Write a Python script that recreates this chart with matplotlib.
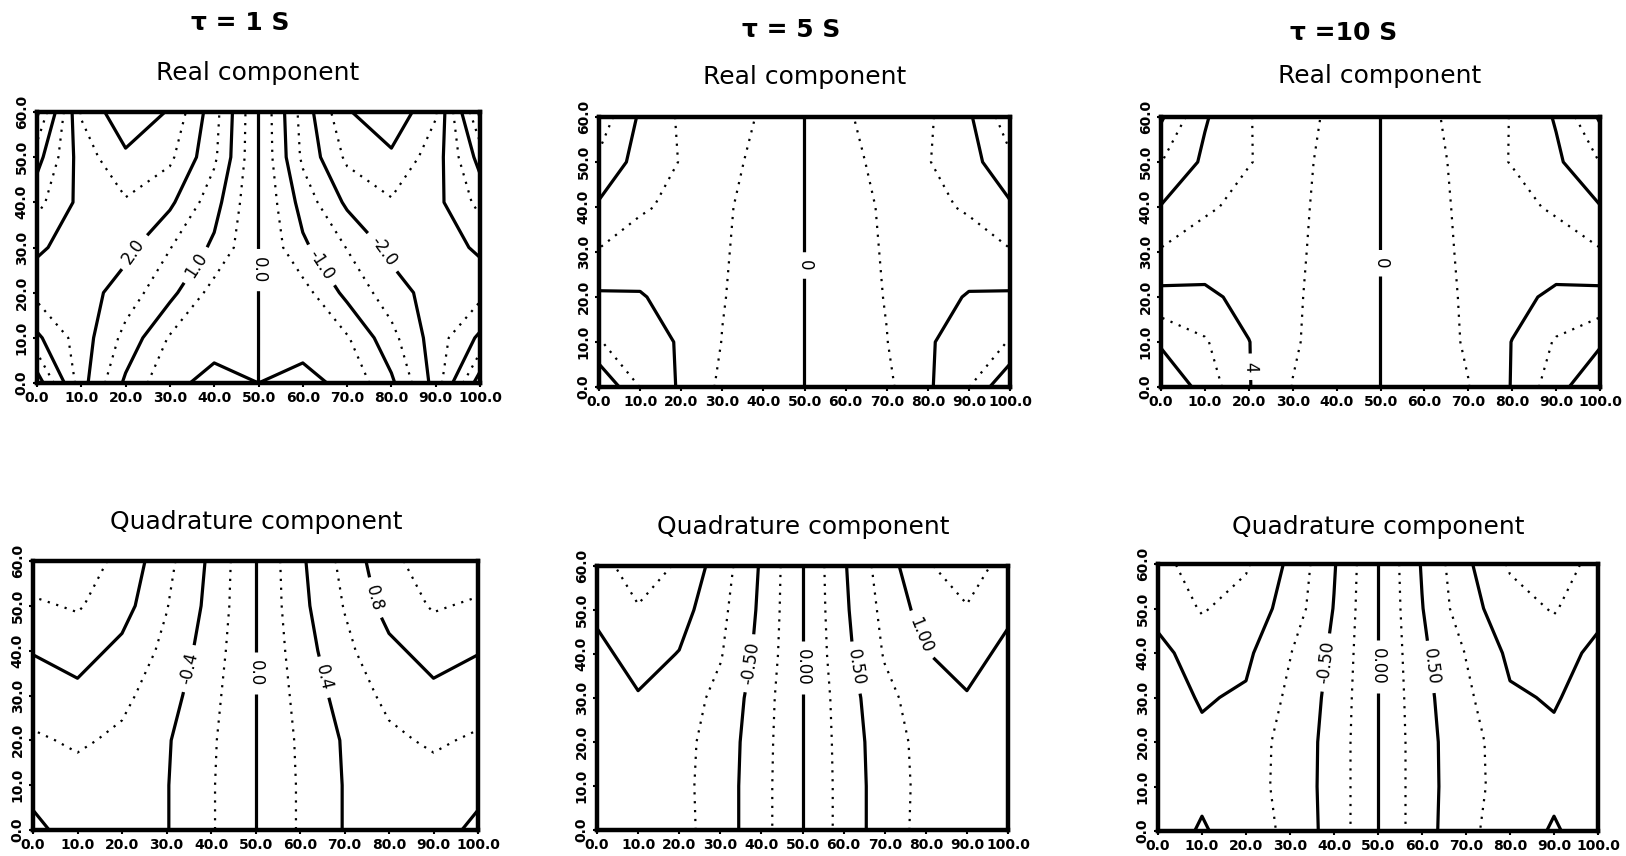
import matplotlib.pyplot as plt
import numpy as np

plt.rcParams['axes.unicode_minus'] = False

# grid nodes: distance along the profile (x) and depth (y)
x_nodes = [0, 10, 20, 30, 40, 50, 60, 70, 80, 90, 100]
y_nodes = [0, 10, 20, 30, 40, 50, 60]

x_tick_labels = ['0.0', '10.0', '20.0', '30.0', '40.0', '50.0',
                 '60.0', '70.0', '80.0', '90.0', '100.0']
y_tick_labels = ['0.0', '10.0', '20.0', '30.0', '40.0', '50.0', '60.0']

tau_titles = ['τ = 1 S', 'τ = 5 S', 'τ =10 S']
row_titles = ['Real component', 'Quadrature component']

# field values on the grid, one row per depth (y = 0 ... 60)
real_tau1 = [
    [4.3, 2.2, 0.9, 0.1, -0.12, 0.0, 0.12, -0.1, -0.9, -2.2, -4.3],
    [3.1, 2.25, 1.35, 0.45, 0.15, 0.0001, -0.15, -0.45, -1.35, -2.25, -3.1],
    [2.35, 2.25, 1.75, 1.15, 0.3, 0.0, -0.3, -1.15, -1.75, -2.25, -2.35],
    [1.9, 2.3, 2.15, 1.52, 0.9, 0.0, -0.9, -1.52, -2.15, -2.3, -1.9],
    [1.35, 2.15, 2.45, 2.1, 1.2, 0.0, -1.2, -2.1, -2.45, -2.15, -1.35],
    [0.8, 2.25, 2.9, 2.6, 1.6, 0.0, -1.6, -2.6, -2.9, -2.25, -0.8],
    [-0.1, 2.55, 3.4, 2.95, 1.7, 0.0, -1.7, -2.95, -3.4, -2.55, 0.1],
]
real_tau5 = [
    [10.0, 5.95, 3.7, 1.6, 0.8, 0.0, -0.8, -1.6, -3.7, -5.95, -10.0],
    [6.1, 4.9, 3.8, 1.95, 0.95, 0.0, -0.95, -1.95, -3.8, -4.9, -6.1],
    [4.3, 4.2, 3.0, 2.1, 1.0, 0.0, -1.0, -2.1, -3.0, -4.2, -4.3],
    [2.15, 2.6, 2.7, 2.2, 1.1, 0.0, -1.1, -2.2, -2.7, -2.6, -2.15],
    [0.3, 1.85, 2.3, 2.3, 1.2, 0.0, -1.2, -2.3, -2.3, -1.85, -0.3],
    [-1.6, 0.8, 2.1, 2.6, 1.45, 0.0, -1.45, -2.6, -2.1, -0.8, 1.6],
    [-3.2, 0.3, 2.3, 2.8, 1.8, 0.0, -1.8, -2.8, -2.3, -0.3, 3.2],
]
real_tau10 = [
    [9.9, 7.2, 4.1, 1.95, 1.0, 0.0, -1.0, -1.95, -4.1, -7.2, -9.9],
    [7.7, 6.2, 4.05, 2.2, 1.1, 0.0, -1.1, -2.2, -4.05, -6.2, -7.7],
    [4.6, 4.5, 3.3, 2.25, 1.2, 0.0, -1.2, -2.25, -3.3, -4.5, -4.6],
    [2.2, 2.7, 2.8, 2.35, 1.25, 0.0, -1.25, -2.35, -2.8, -2.7, -2.2],
    [0.1, 1.8, 2.4, 2.45, 1.3, 0.0, -1.3, -2.45, -2.4, -1.8, -0.1],
    [-2.05, 0.4, 1.95, 2.5, 1.45, 0.0, -1.45, -2.5, -1.95, -0.4, 2.05],
    [-4.3, -0.2, 1.95, 2.6, 1.65, 0.0, -1.65, -2.6, -1.95, 0.2, 4.3],
]
quad_tau1 = [
    [-0.36, -0.47, -0.46, -0.41, -0.22, 0.0, 0.22, 0.41, 0.46, 0.47, 0.36],
    [-0.45, -0.52, -0.48, -0.41, -0.22, 0.0, 0.22, 0.41, 0.48, 0.52, 0.45],
    [-0.57, -0.63, -0.56, -0.42, -0.23, 0.0, 0.23, 0.42, 0.56, 0.63, 0.57],
    [-0.7, -0.75, -0.65, -0.48, -0.26, 0.0, 0.26, 0.48, 0.65, 0.75, 0.7],
    [-0.81, -0.88, -0.75, -0.55, -0.3, 0.0, 0.3, 0.55, 0.75, 0.88, 0.81],
    [-0.97, -1.02, -0.88, -0.61, -0.34, 0.0, 0.34, 0.61, 0.88, 1.02, 0.97],
    [-1.12, -1.1, -0.95, -0.66, -0.36, 0.0, 0.36, 0.66, 0.95, 1.1, 1.12],
]
quad_tau5 = [
    [-0.84, -0.86, -0.83, -0.63, -0.34, 0.0, 0.34, 0.63, 0.83, 0.86, 0.84],
    [-0.84, -0.86, -0.82, -0.63, -0.34, 0.0, 0.34, 0.63, 0.82, 0.86, 0.84],
    [-0.85, -0.88, -0.83, -0.64, -0.35, 0.0, 0.35, 0.64, 0.83, 0.88, 0.85],
    [-0.88, -0.98, -0.88, -0.68, -0.37, 0.0, 0.37, 0.68, 0.88, 0.98, 0.88],
    [-0.93, -1.1, -0.99, -0.77, -0.42, 0.0, 0.42, 0.77, 0.99, 1.1, 0.93],
    [-1.05, -1.23, -1.1, -0.82, -0.45, 0.0, 0.45, 0.82, 1.1, 1.23, 1.05],
    [-1.15, -1.38, -1.22, -0.88, -0.47, 0.0, 0.47, 0.88, 1.22, 1.38, 1.15],
]
quad_tau10 = [
    [-0.9, -1.02, -0.9, -0.68, -0.4, 0.0, 0.4, 0.68, 0.9, 1.02, 0.9],
    [-0.88, -0.96, -0.86, -0.66, -0.4, 0.0, 0.4, 0.66, 0.86, 0.96, 0.88],
    [-0.88, -0.96, -0.86, -0.67, -0.4, 0.0, 0.4, 0.67, 0.86, 0.96, 0.88],
    [-0.9, -1.02, -0.97, -0.7, -0.42, 0.0, 0.42, 0.7, 0.97, 1.02, 0.9],
    [-0.93, -1.12, -1.05, -0.76, -0.45, 0.0, 0.45, 0.76, 1.05, 1.12, 0.93],
    [-1.08, -1.27, -1.15, -0.9, -0.49, 0.0, 0.49, 0.9, 1.15, 1.27, 1.08],
    [-1.15, -1.4, -1.28, -0.95, -0.52, 0.0, 0.52, 0.95, 1.28, 1.4, 1.15],
]

# contour levels: solid lines and the dotted ones in between
real1_solid = [-4, -3, -2, -1, 0, 1, 2, 3, 4]
real1_dotted = [-3.5, -2.5, -1.5, -0.5, 0.5, 1.5, 2.5, 3.5]
real_solid = [-8, -4, 0, 4, 8]
real_dotted = [-6, -2, 2, 6]
quad1_solid = [-1.2, -0.8, -0.4, 0.0, 0.4, 0.8, 1.2]
quad1_dotted = [-1.0, -0.6, -0.2, 0.2, 0.6, 1.0]
quad_solid = [-1.5, -1.0, -0.5, 0.0, 0.5, 1.0, 1.5]
quad_dotted = [-1.25, -0.75, -0.25, 0.25, 0.75, 1.25]

W, H = 1626, 856
fig = plt.figure(figsize=(W / 100, H / 100), dpi=100)


def box(x0, y0, x1, y1):
    return [x0 / W, 1 - y1 / H, (x1 - x0) / W, (y1 - y0) / H]


panels = [
    # (field, solid, dotted, label points, label format, axes box in px)
    (real_tau1, real1_solid, real1_dotted,
     [(22, 29), (36, 26), (50, 25), (64, 26), (78, 29)], '%.1f', (37, 112, 480, 383)),
    (real_tau5, real_solid, real_dotted,
     [(50, 27)], '%d', (599, 117, 1010, 387)),
    (real_tau10, real_solid, real_dotted,
     [(50, 27.5), (20.5, 4.5)], '%d', (1161, 117, 1600, 387)),
    (quad_tau1, quad1_solid, quad1_dotted,
     [(35, 36), (50, 35), (65, 34), (75.5, 51.5)], '%.1f', (33, 561, 478, 830)),
    (quad_tau5, quad_solid, quad_dotted,
     [(36.5, 38), (50, 37), (63.5, 37), (78, 44)], '%.2f', (597, 566, 1008, 830)),
    (quad_tau10, quad_solid, quad_dotted,
     [(37, 38), (50, 37), (63, 37)], '%.2f', (1158, 564, 1598, 831)),
]

X, Y = np.meshgrid(x_nodes, y_nodes)

for field, solid, dotted, label_pts, fmt, px in panels:
    ax = fig.add_axes(box(*px))
    Z = np.array(field)
    ax.contour(X, Y, Z, levels=dotted, colors='black', linewidths=1.6,
               linestyles=[(0, (1, 3))])
    cs = ax.contour(X, Y, Z, levels=solid, colors='black', linewidths=2.3,
                    linestyles='solid')
    ax.clabel(cs, fmt=fmt, manual=label_pts, inline=True, inline_spacing=8,
              fontsize=12, colors='black')
    ax.set_xlim(0, 100)
    ax.set_ylim(0, 60)
    ax.set_xticks(x_nodes)
    ax.set_xticklabels(x_tick_labels, fontsize=10, fontweight='bold')
    ax.set_yticks(y_nodes)
    ax.set_yticklabels(y_tick_labels, fontsize=10, fontweight='bold',
                       rotation=90, va='center')
    ax.tick_params(direction='out', length=3, width=1.5, pad=3)
    for sp in ax.spines.values():
        sp.set_linewidth(3.2)

# column headings and panel titles
for txt, (cx, cy) in zip(tau_titles, [(240, 23), (791, 30), (1344, 33)]):
    fig.text(cx / W, 1 - cy / H, txt, ha='center', va='center',
             fontsize=18, fontweight='bold')
for cx, cy in [(258, 73), (805, 77), (1380, 76)]:
    fig.text(cx / W, 1 - cy / H, row_titles[0], ha='center', va='center', fontsize=18)
for cx, cy in [(256, 522), (803, 527), (1378, 527)]:
    fig.text(cx / W, 1 - cy / H, row_titles[1], ha='center', va='center', fontsize=18)

fig.savefig('out.png', dpi=100, facecolor='white')
